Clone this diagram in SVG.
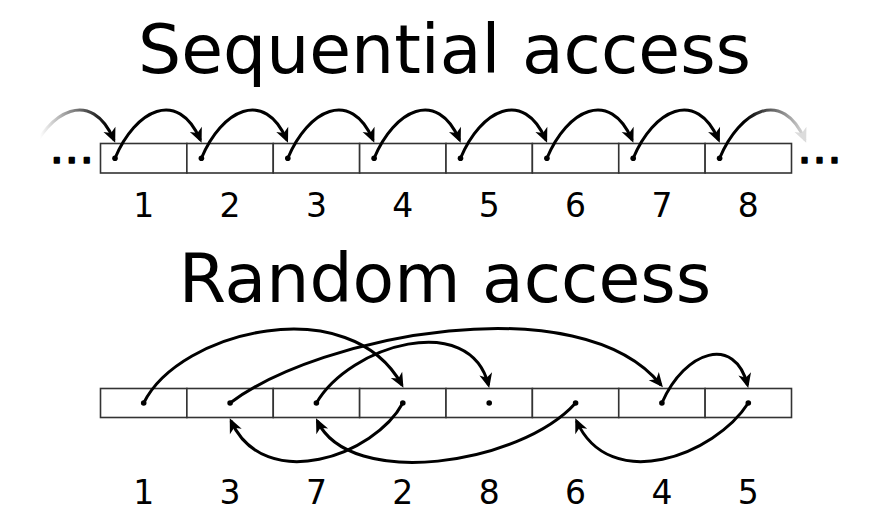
<svg xmlns="http://www.w3.org/2000/svg" width="887" height="526" viewBox="0 0 887 526">
<style>
.title{font-family:"DejaVu Sans",sans-serif;font-size:68px;fill:#000;text-anchor:middle}
.num{font-family:"DejaVu Sans",sans-serif;font-size:33px;fill:#000;text-anchor:middle}
.ell{font-family:"DejaVu Sans",sans-serif;font-size:45px;fill:#000;stroke:#000;stroke-width:1.6;stroke-linejoin:round;text-anchor:middle}
.cell{fill:#fff;stroke:#333;stroke-width:1.6}
.dot{fill:#000}
.arc{fill:none;stroke:#000;stroke-width:3;marker-end:url(#ah)}
</style>
<defs>
<marker id="ah" markerUnits="userSpaceOnUse" orient="auto" refX="-3" refY="0" markerWidth="22" markerHeight="22" viewBox="-18 -9 22 18" overflow="visible">
<path d="M0,0 L-14.5,-6.5 L-10.5,0 L-14.5,6.5 Z" fill="#000"/>
</marker>
<marker id="ahFade" markerUnits="userSpaceOnUse" orient="auto" refX="-3" refY="0" markerWidth="22" markerHeight="22" viewBox="-18 -9 22 18" overflow="visible">
<path d="M0,0 L-14.5,-6.5 L-10.5,0 L-14.5,6.5 Z" fill="#dcdcdc"/>
</marker>
<linearGradient id="fadeIn" gradientUnits="userSpaceOnUse" x1="40" y1="0" x2="108" y2="0">
<stop offset="0" stop-color="#000" stop-opacity="0"/>
<stop offset="1" stop-color="#000" stop-opacity="1"/>
</linearGradient>
<linearGradient id="fadeOut" gradientUnits="userSpaceOnUse" x1="745" y1="0" x2="805" y2="0">
<stop offset="0" stop-color="#000"/>
<stop offset="1" stop-color="#dcdcdc"/>
</linearGradient>
</defs>
<rect width="887" height="526" fill="#fff"/>

<text class="title" x="444.5" y="73">Sequential access</text>
<text class="title" x="445" y="302">Random access</text>

<g id="seq-cells">
<g id="seq1"><rect class="cell" x="100.5" y="143.5" width="86.375" height="29.5"/><circle class="dot" cx="115" cy="158.3" r="2.8"/><text class="num" x="143.7" y="217">1</text></g>
<g id="seq2"><rect class="cell" x="186.875" y="143.5" width="86.375" height="29.5"/><circle class="dot" cx="201.4" cy="158.3" r="2.8"/><text class="num" x="230.1" y="217">2</text></g>
<g id="seq3"><rect class="cell" x="273.25" y="143.5" width="86.375" height="29.5"/><circle class="dot" cx="287.8" cy="158.3" r="2.8"/><text class="num" x="316.4" y="217">3</text></g>
<g id="seq4"><rect class="cell" x="359.625" y="143.5" width="86.375" height="29.5"/><circle class="dot" cx="374.1" cy="158.3" r="2.8"/><text class="num" x="402.8" y="217">4</text></g>
<g id="seq5"><rect class="cell" x="446" y="143.5" width="86.375" height="29.5"/><circle class="dot" cx="460.5" cy="158.3" r="2.8"/><text class="num" x="489.2" y="217">5</text></g>
<g id="seq6"><rect class="cell" x="532.375" y="143.5" width="86.375" height="29.5"/><circle class="dot" cx="546.9" cy="158.3" r="2.8"/><text class="num" x="575.6" y="217">6</text></g>
<g id="seq7"><rect class="cell" x="618.75" y="143.5" width="86.375" height="29.5"/><circle class="dot" cx="633.2" cy="158.3" r="2.8"/><text class="num" x="661.9" y="217">7</text></g>
<g id="seq8"><rect class="cell" x="705.125" y="143.5" width="86.375" height="29.5"/><circle class="dot" cx="719.6" cy="158.3" r="2.8"/><text class="num" x="748.3" y="217">8</text></g>
<text id="ell-left" class="ell" x="71.7" y="162.5">…</text>
<text id="ell-right" class="ell" x="819.5" y="162.5">…</text>
</g>

<g id="seq-connectors">
<path d="M28.6,158.3 C48.6,110 91.6,88 114,140" fill="none" stroke="url(#fadeIn)" stroke-width="3" marker-end="url(#ah)"/>
<path class="arc" d="M115,158.3 C135,110 178,88 200.4,140"/>
<path class="arc" d="M201.4,158.3 C221.4,110 264.4,88 286.8,140"/>
<path class="arc" d="M287.8,158.3 C307.8,110 350.8,88 373.1,140"/>
<path class="arc" d="M374.1,158.3 C394.1,110 437.1,88 459.5,140"/>
<path class="arc" d="M460.5,158.3 C480.5,110 523.5,88 545.9,140"/>
<path class="arc" d="M546.9,158.3 C566.9,110 609.9,88 632.2,140"/>
<path class="arc" d="M633.2,158.3 C653.2,110 696.2,88 718.6,140"/>
<path d="M719.6,158.3 C739.6,110 782.6,88 805,140" fill="none" stroke="url(#fadeOut)" stroke-width="3" marker-end="url(#ahFade)"/>
</g>

<g id="rand-cells">
<g id="rand1"><rect class="cell" x="100.5" y="388.5" width="86.375" height="29"/><circle class="dot" cx="143.7" cy="403" r="2.8"/><text class="num" x="143.7" y="504">1</text></g>
<g id="rand3"><rect class="cell" x="186.875" y="388.5" width="86.375" height="29"/><circle class="dot" cx="230.1" cy="403" r="2.8"/><text class="num" x="230.1" y="504">3</text></g>
<g id="rand7"><rect class="cell" x="273.25" y="388.5" width="86.375" height="29"/><circle class="dot" cx="316.4" cy="403" r="2.8"/><text class="num" x="316.4" y="504">7</text></g>
<g id="rand2"><rect class="cell" x="359.625" y="388.5" width="86.375" height="29"/><circle class="dot" cx="402.8" cy="403" r="2.8"/><text class="num" x="402.8" y="504">2</text></g>
<g id="rand8"><rect class="cell" x="446" y="388.5" width="86.375" height="29"/><circle class="dot" cx="489.2" cy="403" r="2.8"/><text class="num" x="489.2" y="504">8</text></g>
<g id="rand6"><rect class="cell" x="532.375" y="388.5" width="86.375" height="29"/><circle class="dot" cx="575.6" cy="403" r="2.8"/><text class="num" x="575.6" y="504">6</text></g>
<g id="rand4"><rect class="cell" x="618.75" y="388.5" width="86.375" height="29"/><circle class="dot" cx="661.9" cy="403" r="2.8"/><text class="num" x="661.9" y="504">4</text></g>
<g id="rand5"><rect class="cell" x="705.125" y="388.5" width="86.375" height="29"/><circle class="dot" cx="748.3" cy="403" r="2.8"/><text class="num" x="748.3" y="504">5</text></g>
</g>

<g id="rand-connectors">
<path class="arc" d="M143.7,403 C180,330 350,290 402,385"/>
<path class="arc" d="M402.8,403 C375,455 265,495 231,421"/>
<path class="arc" d="M230.1,403 C320,335 580,285 661,385"/>
<path class="arc" d="M661.9,403 C685,350 735,335 747.5,385"/>
<path class="arc" d="M748.3,403 C715,455 610,495 576.5,421"/>
<path class="arc" d="M575.6,403 C520,465 350,490 317.3,421"/>
<path class="arc" d="M316.4,403 C350,345 470,310 488.5,385"/>
</g>
</svg>
